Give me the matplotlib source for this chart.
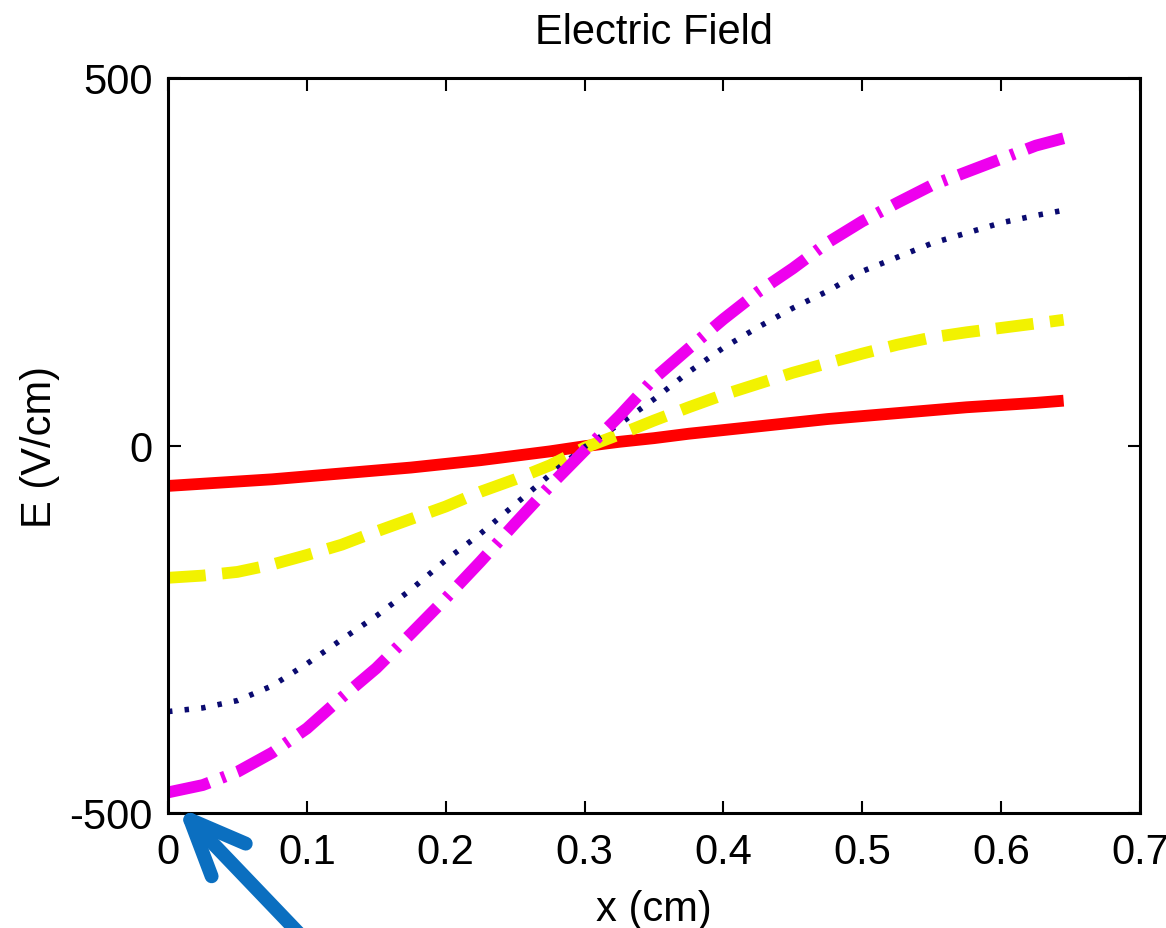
import matplotlib
matplotlib.use("Agg")
import matplotlib.pyplot as plt
from matplotlib.patches import FancyArrowPatch

# values (x in cm, E in V/cm)
x_cm = [0.0, 0.025, 0.05, 0.075, 0.10, 0.125, 0.15, 0.175, 0.20, 0.225, 0.25, 0.275, 0.30,
        0.325, 0.35, 0.375, 0.40, 0.425, 0.45, 0.475, 0.50, 0.525, 0.55, 0.575, 0.60, 0.625, 0.645]
e_red = [-55, -52, -49, -46, -42, -38, -34, -30, -25, -20, -14, -8, -1,
         5, 10, 16, 21, 26, 31, 36, 40, 44, 48, 52, 55, 58, 61]
e_yellow = [-180, -177, -172, -162, -149, -135, -117, -100, -83, -63, -46, -27, -3,
            15, 34, 52, 69, 84, 99, 112, 125, 137, 147, 154, 160, 166, 171]
e_blue = [-362, -357, -347, -327, -297, -264, -232, -196, -156, -120, -80, -40, -2,
          29, 63, 100, 133, 161, 187, 210, 237, 256, 275, 289, 303, 313, 320]
e_magenta = [-472, -462, -444, -418, -385, -343, -303, -256, -208, -158, -106, -55, -7,
             40, 91, 132, 172, 209, 241, 276, 305, 330, 354, 372, 390, 408, 418]

x_ticks = [0, 0.1, 0.2, 0.3, 0.4, 0.5, 0.6, 0.7]
x_ticklabels = ["0", "0.1", "0.2", "0.3", "0.4", "0.5", "0.6", "0.7"]
y_ticks = [-500, 0, 500]
y_ticklabels = ["-500", "0", "500"]

plt.rcParams['font.family'] = ['Liberation Sans', 'DejaVu Sans']
FS = 30

fig = plt.figure(figsize=(11.66, 9.29), dpi=100)
ax = fig.add_axes([168 / 1166, 1 - 814 / 929, (1140 - 168) / 1166, (814 - 79) / 929])

ax.plot(x_cm, e_red, color='#ff0000', lw=8.5, solid_capstyle='butt')
ax.plot(x_cm, e_yellow, color='#f2f200', lw=8.5, linestyle=(0, (3.2, 1.4)), dash_capstyle='butt')
ax.plot(x_cm, e_blue, color='#0a0a70', lw=4, linestyle=(0, (0.8, 2.2)), dash_capstyle='butt')
ax.plot(x_cm, e_magenta, color='#ee00ee', lw=8.5, linestyle=(0, (3.6, 1.1, 0.35, 1.1)), dash_capstyle='butt')

ax.set_xlim(0, 0.7)
ax.set_ylim(-500, 500)
ax.set_xticks(x_ticks)
ax.set_xticklabels(x_ticklabels)
ax.set_yticks(y_ticks)
ax.set_yticklabels(y_ticklabels)
ax.tick_params(direction='in', length=9, width=1.5, top=True, right=True, labelsize=FS)
ax.tick_params(axis='x', pad=14)
ax.tick_params(axis='y', pad=11)
for sp in ax.spines.values():
    sp.set_linewidth(2.2)

ax.set_title("Electric Field", fontsize=FS, pad=25)
ax.set_xlabel("x (cm)", fontsize=FS, labelpad=12)
ax.set_ylabel("E (V/cm)", fontsize=FS, labelpad=7)

# blue pointer arrow at the lower left corner
arrow = FancyArrowPatch((312 / 1166, 1 - 948 / 929), (178 / 1166, 1 - 808 / 929),
                        transform=fig.transFigure, arrowstyle='->,head_length=4,head_width=1.7',
                        mutation_scale=10, lw=10, color='#0b6fc0', shrinkA=0, shrinkB=0,
                        capstyle='round', joinstyle='round')
fig.add_artist(arrow)

fig.savefig("out.png", dpi=100, facecolor='white')
